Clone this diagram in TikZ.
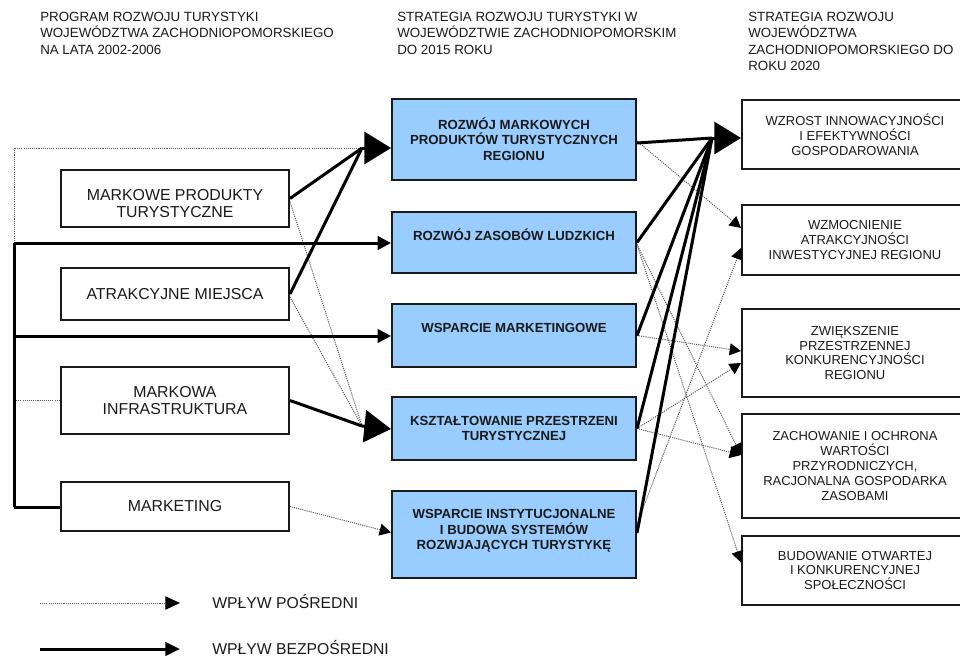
\documentclass[tikz,border=0pt]{standalone}
\usepackage{fontspec}
\setmainfont{Liberation Sans}
\usetikzlibrary{arrows.meta,calc}
\definecolor{boxblue}{HTML}{99CCFF}
\definecolor{ink}{HTML}{1A1A1A}
\begin{document}
\begin{tikzpicture}[x=0.75pt,y=-0.75pt,
  hdr/.style={anchor=north west,inner sep=0pt,align=left,text=ink,font=\fontsize{10}{12.4}\selectfont},
  lbox/.style={draw=ink,line width=1.5pt,fill=white,minimum width=171pt,inner sep=0pt,align=center,text=ink,font=\fontsize{11.9}{13}\selectfont},
  mbox/.style={draw=ink,line width=1.5pt,fill=boxblue,minimum width=183pt,inner sep=0pt,align=center,text=ink,font=\bfseries\fontsize{9.9}{11.6}\selectfont},
  rbox/.style={draw=ink,line width=1.5pt,fill=white,minimum width=169.5pt,inner sep=0pt,align=center,text=ink,font=\fontsize{9.75}{11.1}\selectfont},
  legtext/.style={anchor=base west,inner sep=0pt,text=ink,font=\fontsize{11.8}{13}\selectfont},
  thickline/.style={draw=black,line width=2.25pt},
  dotline/.style={draw=black!65,line width=0.75pt,dash pattern=on 0.8pt off 0.8pt},
  bigtip/.style={-{Triangle[length=20pt,width=24pt,color=black]}},
  midtip/.style={-{Triangle[length=10pt,width=10pt,color=black]}},
  smalltip/.style={-{Triangle[length=8.5pt,width=9pt,color=black]}},
  legtip/.style={-{Triangle[length=11pt,width=10pt,color=black]}}
]
\clip (0,0) rectangle (960,657);
\fill[white] (0,0) rectangle (960,657);

% headers
\node[hdr] (h1) at (40,11.5) {PROGRAM ROZWOJU TURYSTYKI\\WOJEWÓDZTWA ZACHODNIOPOMORSKIEGO\\NA LATA 2002-2006};
\node[hdr] (h2) at (397,11.5) {STRATEGIA ROZWOJU TURYSTYKI W\\WOJEWÓDZTWIE ZACHODNIOPOMORSKIM\\DO 2015 ROKU};
\node[hdr] (h3) at (748,11.5) {STRATEGIA ROZWOJU\\WOJEWÓDZTWA\\ZACHODNIOPOMORSKIEGO DO\\ROKU 2020};

% left boxes
\node[lbox,minimum height=42.75pt] (l1) at (175,198.5) {\rule{0pt}{16pt}MARKOWE PRODUKTY\\TURYSTYCZNE};
\node[lbox,minimum height=39pt] (l2) at (175,294) {ATRAKCYJNE MIEJSCA};
\node[lbox,minimum height=50.25pt] (l3) at (175,400.5) {MARKOWA\\INFRASTRUKTURA};
\node[lbox,minimum height=36.75pt] (l4) at (175,506.5) {MARKETING};

% middle boxes
\node[mbox,minimum height=60.75pt] (m1) at (514,139) {ROZWÓJ MARKOWYCH\\PRODUKTÓW TURYSTYCZNYCH\\REGIONU};
\node[mbox,minimum height=45.75pt] (m2) at (514,242.5) {ROZWÓJ ZASOBÓW LUDZKICH\\\mbox{}};
\node[mbox,minimum height=47.25pt] (m3) at (514,335.5) {WSPARCIE MARKETINGOWE\\\mbox{}};
\node[mbox,minimum height=47.25pt] (m4) at (514,428.5) {KSZTAŁTOWANIE PRZESTRZENI\\TURYSTYCZNEJ};
\node[mbox,minimum height=65.25pt] (m5) at (514,534.5) {WSPARCIE INSTYTUCJONALNE\\I BUDOWA SYSTEMÓW\\ROZWJAJĄCYCH TURYSTYKĘ\rule[-7pt]{0pt}{0pt}};

% right boxes
\node[rbox,minimum height=51.75pt] (r1) at (855,134.5) {WZROST INNOWACYJNOŚCI\\I EFEKTYWNOŚCI\\GOSPODAROWANIA};
\node[rbox,minimum height=52.5pt] (r2) at (855,240) {WZMOCNIENIE\\ATRAKCYJNOŚCI\\INWESTYCYJNEJ REGIONU};
\node[rbox,minimum height=66pt] (r3) at (855,353) {ZWIĘKSZENIE\\PRZESTRZENNEJ\\KONKURENCYJNOŚCI\\REGIONU};
\node[rbox,minimum height=78pt] (r4) at (855,466) {ZACHOWANIE I OCHRONA\\WARTOŚCI\\PRZYRODNICZYCH,\\RACJONALNA GOSPODARKA\\ZASOBAMI};
\node[rbox,minimum height=51.75pt] (r5) at (855,570.5) {BUDOWANIE OTWARTEJ\\I KONKURENCYJNEJ\\SPOŁECZNOŚCI};

% junction points
\coordinate (cA) at (362,148);
\coordinate (cB) at (362,426);
\coordinate (cC) at (712,138);
\coordinate (vTop) at (14,148);
\coordinate (v1) at (14,243);
\coordinate (v2) at (14,336);
\coordinate (v3) at (14,400);
\coordinate (v4) at (14,507);

% dotted (indirect) links
\draw[dotline] (v1) -- (vTop) -- (cA);
\draw[dotline] (v3) -- (v3 -| l3.west);
\draw[dotline] ($(l1.east)+(0,3)$) -- (cB);
\draw[dotline] ($(l2.east)+(0,3)$) -- (cB);
\draw[dotline,smalltip] (l4.east) -- ($(m5.west)+(0,-2)$);
\draw[dotline,smalltip] ($(m1.east)+(0,2)$) -- ($(r2.west)+(0,-12)$);
\draw[dotline,smalltip] ($(m5.east)+(0,-10)$) -- ($(r2.west)+(0,8)$);
\draw[dotline,smalltip] (m3.east) -- ($(r3.west)+(0,-2)$);
\draw[dotline,smalltip] (m4.east) -- ($(r3.west)+(0,10)$);
\draw[dotline,smalltip] (m4.east) -- ($(r4.west)+(0,-11)$);
\draw[dotline,smalltip] ($(m2.east)+(0,2)$) -- ($(r4.west)+(0,-11)$);
\draw[dotline,smalltip] ($(m2.east)+(0,2)$) -- ($(r5.west)+(0,-8)$);

% thick (direct) links
\draw[thickline] (v1) -- (v4);
\draw[thickline,midtip] (v1) -- (v1 -| m2.west);
\draw[thickline,midtip] (v2) -- (v2 -| m3.west);
\draw[thickline] (v4) -- (v4 -| l4.west);
\draw[thickline] (l1.east) -- (cA);
\draw[thickline] (l2.east) -- (cA);
\draw[thickline,bigtip] (cA) -- (cA -| m1.west);
\draw[thickline] (l3.east) -- (cB);
\draw[thickline,bigtip] (cB) -- ($(cB -| m4.west)+(0,3)$);
\draw[thickline] ($(m1.east)+(0,4)$) -- (cC);
\draw[thickline] (m2.east) -- (cC);
\draw[thickline] (m3.east) -- (cC);
\draw[thickline] (m4.east) -- (cC);
\draw[thickline] ($(m5.east)+(0,-1.5)$) -- (cC);
\draw[thickline,bigtip] (cC) -- (cC -| r1.west);

% legend
\coordinate (la1) at (40,603);
\coordinate (la2) at (180,603);
\coordinate (lb1) at (40,649);
\coordinate (lb2) at (180,649);
\draw[dotline,legtip] (la1) -- (la2);
\draw[thickline,legtip] (lb1) -- (lb2);
\node[legtext] (lt1) at (212,608.5) {WPŁYW POŚREDNI};
\node[legtext] (lt2) at (212,654.5) {WPŁYW BEZPOŚREDNI};
\end{tikzpicture}
\end{document}
